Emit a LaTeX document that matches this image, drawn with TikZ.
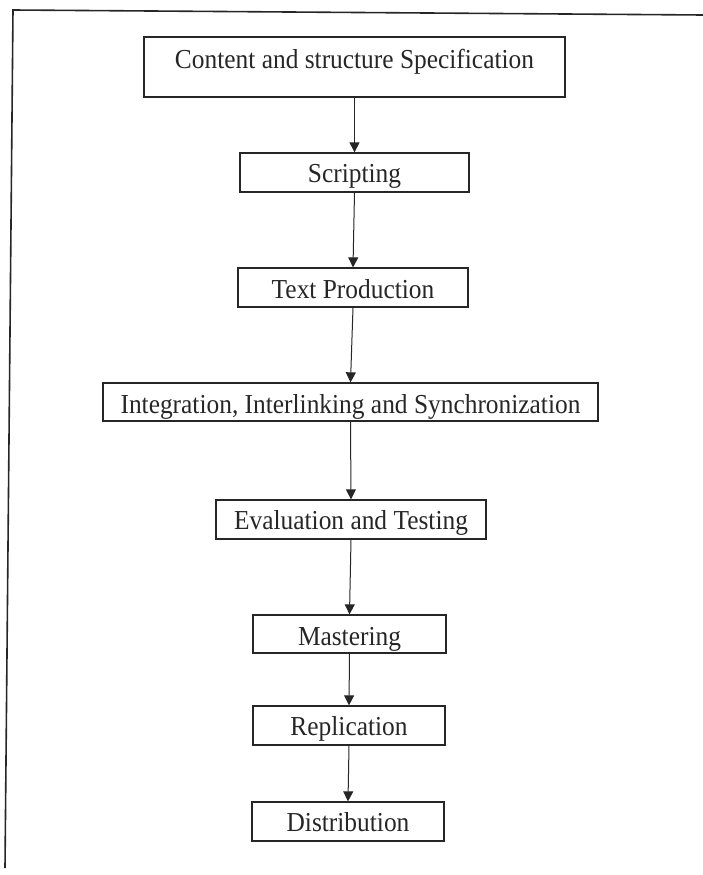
\documentclass[tikz,border=0pt]{standalone}
\usepackage{fontspec}
\setmainfont{Liberation Serif}
\usetikzlibrary{arrows.meta}
\newcommand\stxt[1]{\scalebox{1}[1.08]{#1}}
\tikzset{
  stepbox/.style={draw=black!85, line width=1.3pt, rectangle, inner xsep=0pt, inner ysep=0pt,
    font=\fontsize{25.4}{30}\selectfont, text=black!85},
  flow/.style={draw=black!85, line width=1pt, -{Triangle[length=10pt,width=10pt]}},
  frameline/.style={draw=black!85, line width=1.6pt}
}
\begin{document}
\begin{tikzpicture}[x=1pt,y=-1pt]
\useasboundingbox (0,0) rectangle (703,875);
% outer frame (top and left edges only)
\coordinate (ftl) at (13,10);
\coordinate (ftr) at (703,15);
\coordinate (fbl) at (5,868);
\draw[frameline] (ftr) -- (ftl) -- (fbl);

\node[stepbox, minimum width=421pt, text height=31pt, text depth=29pt] (content) at (354.5,67) {\stxt{Content and structure Specification}};
\node[stepbox, minimum width=229pt, text height=29pt, text depth=10pt] (script) at (354.5,172.5) {\stxt{Scripting}};
\node[stepbox, minimum width=230pt, text height=30pt, text depth=9pt] (textp) at (353,287.5) {\stxt{Text Production}};
\node[stepbox, minimum width=495pt, text height=30pt, text depth=8pt] (integ) at (350.5,402) {\stxt{Integration, Interlinking and Synchronization}};
\node[stepbox, minimum width=270pt, text height=29pt, text depth=10pt] (evalt) at (351,519.5) {\stxt{Evaluation and Testing}};
\node[stepbox, minimum width=193pt, text height=30pt, text depth=8pt] (master) at (349.5,634) {\stxt{Mastering}};
\node[stepbox, minimum width=192pt, text height=29pt, text depth=10pt] (repl) at (349,725.5) {\stxt{Replication}};
\node[stepbox, minimum width=192pt, text height=29pt, text depth=10pt] (dist) at (348,821.5) {\stxt{Distribution}};

\draw[flow] (content.south) -- (script.north);
\draw[flow] (script.south) -- (textp.north);
\draw[flow] (textp.south) -- (integ.north);
\draw[flow] (integ.south) -- (evalt.north);
\draw[flow] (evalt.south) -- (master.north);
\draw[flow] (master.south) -- (repl.north);
\draw[flow] (repl.south) -- (dist.north);
\end{tikzpicture}
\end{document}
